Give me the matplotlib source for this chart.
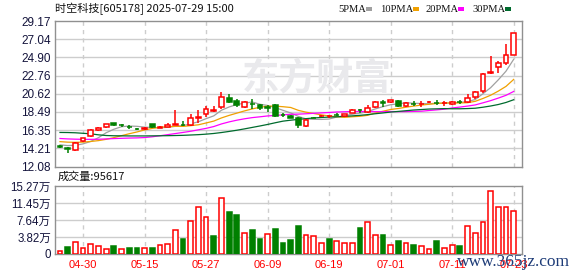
import numpy as np
import pandas as pd
import matplotlib
matplotlib.use('Agg')
import matplotlib.pyplot as plt
from matplotlib.patches import Rectangle

plt.rcParams['font.family'] = ['Liberation Sans', 'Noto Sans CJK SC', 'DejaVu Sans']

# ---------------- data ----------------
opens = [14.45, 14.30, 14.07, 15.05, 15.69, 16.40, 16.68, 17.15, 16.90, 16.72,
         16.50, 16.48, 17.03, 16.64, 16.76, 16.99, 17.01, 16.92, 17.82, 18.30,
         18.64, 19.07, 20.12, 19.80, 19.07, 19.42, 19.25, 19.01, 19.33, 18.12,
         18.06, 17.74, 16.85, 17.82, 17.98, 17.97, 18.12, 17.96, 18.40, 18.70,
         18.47, 19.06, 19.60, 19.61, 19.80, 19.18, 19.43, 19.39, 19.62, 19.58,
         19.48, 19.45, 19.67, 19.65, 20.23, 20.90, 23.09, 23.72, 24.18, 25.20]
highs = [14.57, 14.38, 14.98, 15.45, 16.48, 16.76, 17.07, 17.23, 17.07, 16.91,
         16.64, 16.68, 17.07, 16.84, 17.15, 18.66, 17.47, 18.26, 18.72, 19.22,
         19.17, 20.87, 20.62, 20.04, 19.82, 19.98, 19.47, 19.32, 19.41, 18.32,
         18.17, 17.84, 17.61, 17.90, 18.10, 18.17, 18.34, 18.27, 18.85, 18.87,
         19.26, 19.80, 19.88, 19.90, 19.88, 19.65, 19.72, 19.72, 19.80, 19.88,
         19.72, 19.80, 19.88, 20.59, 20.98, 23.01, 25.05, 24.50, 26.49, 27.80]
lows = [14.27, 13.72, 13.91, 14.94, 15.57, 16.28, 16.56, 16.84, 16.76, 16.52,
        16.32, 16.40, 16.64, 16.60, 16.68, 16.95, 16.84, 16.80, 17.23, 17.84,
        18.50, 18.87, 19.50, 19.02, 18.93, 18.87, 18.67, 18.50, 17.84, 17.94,
        17.74, 16.60, 16.74, 17.72, 17.88, 17.72, 17.97, 17.88, 18.32, 18.42,
        18.32, 18.94, 19.10, 19.55, 19.02, 19.02, 19.20, 19.10, 19.55, 19.25,
        19.18, 19.33, 19.45, 19.50, 20.04, 20.74, 22.97, 23.01, 24.03, 25.12]
closes = [14.42, 14.15, 14.86, 15.37, 16.32, 16.64, 17.03, 16.91, 16.88, 16.70,
          16.48, 16.56, 16.68, 16.70, 16.99, 17.07, 16.97, 17.75, 17.90, 18.81,
          18.72, 20.27, 19.68, 19.33, 19.62, 19.38, 18.93, 18.98, 18.02, 18.09,
          17.82, 16.90, 17.53, 17.78, 18.02, 18.05, 18.09, 18.24, 18.69, 18.66,
          18.94, 19.69, 19.56, 19.84, 19.18, 19.57, 19.40, 19.42, 19.66, 19.55,
          19.52, 19.69, 19.63, 20.12, 20.78, 22.93, 23.22, 24.26, 25.20, 27.75]

# volume in 万 (10k shares)
volumes = [0.74, 1.49, 2.76, 1.42, 2.31, 1.86, 1.19, 1.71, 1.19, 1.27,
           1.42, 1.42, 1.27, 1.94, 2.16, 5.44, 3.28, 7.45, 10.58, 8.34,
           3.95, 12.59, 9.53, 8.86, 4.77, 5.29, 3.28, 4.54, 5.51, 2.38,
           3.05, 6.18, 4.32, 3.95, 2.53, 3.28, 2.98, 2.53, 2.53, 5.74,
           7.23, 4.17, 4.17, 1.94, 2.83, 2.53, 2.01, 1.71, 1.19, 2.83,
           1.42, 1.94, 1.71, 6.33, 4.77, 7.23, 14.15, 10.58, 10.58, 9.5617]
vol_up = [1, 0, 1, 1, 1, 1, 1, 0, 1, 0,
          0, 1, 0, 1, 1, 1, 0, 1, 1, 1,
          0, 1, 0, 0, 1, 0, 0, 1, 0, 0,
          0, 0, 1, 1, 1, 0, 1, 1, 1, 0,
          1, 1, 0, 1, 0, 1, 0, 1, 1, 0,
          1, 1, 0, 1, 1, 1, 1, 1, 1, 1]

# moving-average values visible before enough in-chart history exists
ma5_head = [14.62, 14.54, 14.57, 14.74]
ma10_head = [15.00, 14.94, 14.92, 14.94, 15.02, 15.12, 15.27, 15.47, 15.70]
ma20_head = [15.37, 15.32, 15.29, 15.27, 15.27, 15.28, 15.32, 15.36, 15.39, 15.42,
             15.44, 15.48, 15.57, 15.69, 15.82, 15.95, 16.08, 16.22, 16.39]
ma30_head = [16.08, 16.07, 16.04, 15.98, 15.92, 15.80, 15.72, 15.69, 15.68, 15.67,
             15.67, 15.67, 15.68, 15.69, 15.70, 15.72, 15.74, 15.78, 15.82, 15.88,
             15.96, 16.07, 16.20, 16.34, 16.50, 16.67, 16.84, 17.02, 17.22]

tick_idx = [3, 11, 19, 27, 35, 43, 51, 59]
tick_labels = ['04-30', '05-15', '05-27', '06-09', '06-19', '07-01', '07-11', '07-23']
price_ticks = [12.08, 14.21, 16.35, 18.49, 20.62, 22.76, 24.90, 27.04, 29.17]
vol_ticks = [0, 3.82, 7.64, 11.45, 15.27]
vol_tick_labels = ['0', '3.82万', '7.64万', '11.45万', '15.27万']

title_text = '时空科技[605178] 2025-07-29 15:00'
vol_title = '成交量:95617'
legend_names = ['5PMA', '10PMA', '20PMA', '30PMA']

# ---------------- styles ----------------
RED = '#ff0000'
GREEN = '#008000'
MA_COLORS = ['#a0a0a0', '#f0a000', '#ff00ff', '#006b2e']
GRID = '#cdcdcd'
FRAME = '#909090'
LABEL = '#14143c'

W, H = 578, 276
fig = plt.figure(figsize=(W / 100, H / 100), dpi=100)

def rect(l, t, r, b):
    return [l / W, 1 - b / H, (r - l) / W, (b - t) / H]

ax = fig.add_axes(rect(55, 21, 522, 166.5))
axv = fig.add_axes(rect(55, 186, 522, 254))

x = np.arange(len(closes))
o = np.array(opens); c = np.array(closes); hi = np.array(highs); lo = np.array(lows)
up = c >= o
bw = 0.62

# moving averages
def ma(n, head):
    s = pd.Series(closes).rolling(n).mean().to_numpy()
    s[:n - 1] = head
    return s

for (n, head), col in zip([(5, ma5_head), (10, ma10_head), (20, ma20_head), (30, ma30_head)], MA_COLORS):
    ax.plot(x, ma(n, head), color=col, lw=0.9, zorder=2, solid_joinstyle='miter')

# candles
colors = np.where(up, RED, GREEN)
ax.vlines(x, lo, hi, colors=colors, lw=1.1, zorder=2.5)
body_h = np.where(np.abs(c - o) < 0.02, 0.02, c - o)
ax.bar(x[up], body_h[up], bottom=o[up], width=bw, facecolor='white', edgecolor=RED,
       linewidth=1.1, zorder=3)
ax.bar(x[~up], body_h[~up], bottom=o[~up], width=bw, facecolor=GREEN, edgecolor=GREEN,
       linewidth=1.1, zorder=3)

ax.set_xlim(-0.65, 60.08)
ax.set_ylim(price_ticks[0], price_ticks[-1])
ax.set_yticks(price_ticks)
ax.set_yticklabels(['%.2f' % v for v in price_ticks])
ax.set_xticks(tick_idx)
ax.set_xticklabels([])
for v in price_ticks[1:-1]:
    ax.axhline(v, color=GRID, lw=1.0, zorder=0.5)
for t in tick_idx:
    ax.axvline(t, color=GRID, lw=1.0, ls=(0, (3, 3)), zorder=0.5)

# watermark
ax.text(0.56, 0.60, '东方财富', transform=ax.transAxes, fontsize=27, fontweight='bold',
        color='#e9e9ec', ha='center', va='center', zorder=0.8,
        family=['Noto Sans CJK SC'])

# volume
vu = np.array(vol_up, dtype=bool)
vv = np.array(volumes)
axv.bar(x[vu], vv[vu], width=bw, facecolor='white', edgecolor=RED, linewidth=1.1, zorder=3)
axv.bar(x[~vu], vv[~vu], width=bw, facecolor=GREEN, edgecolor=GREEN, linewidth=1.1, zorder=3)
axv.set_xlim(-0.65, 60.08)
axv.set_ylim(0, vol_ticks[-1])
axv.set_yticks(vol_ticks)
axv.set_yticklabels(vol_tick_labels)
axv.set_xticks(tick_idx)
axv.set_xticklabels(tick_labels)
for v in vol_ticks[1:-1]:
    axv.axhline(v, color=GRID, lw=1.0, zorder=0.5)
for t in tick_idx:
    axv.axvline(t, color=GRID, lw=1.0, ls=(0, (3, 3)), zorder=0.5)

for a in (ax, axv):
    for sp in a.spines.values():
        sp.set_color(FRAME)
        sp.set_linewidth(1.0)
    a.tick_params(axis='both', length=0)
    a.tick_params(axis='y', pad=3, labelsize=8.5, labelcolor=LABEL)
axv.tick_params(axis='x', pad=4, labelsize=8, labelcolor=RED)
axv.tick_params(axis='y', labelsize=8.3)

# title & legend
fig.text(55 / W, 1 - 9 / H, title_text, fontsize=8, color='#111111', ha='left', va='center',
         family=['Noto Sans CJK SC'])
leg_x = [338, 380, 426, 472]
sw_x = [366, 413, 458, 505]
for name, lx, sx, col in zip(legend_names, leg_x, sw_x, MA_COLORS):
    fig.text(lx / W, 1 - 9 / H, name, fontsize=7.6, color='#111111', ha='left', va='center',
             family=['Liberation Serif'])
    fig.patches.append(Rectangle((sx / W, 1 - 10.5 / H), 6 / W, 3 / H,
                                 transform=fig.transFigure, facecolor=col, edgecolor='none'))

fig.text(58 / W, 1 - 177 / H, vol_title, fontsize=8, color='#111111', ha='left', va='center',
         family=['Noto Sans CJK SC'])

# site watermark
fig.text(513 / W, 1 - 262 / H, 'www.365jz.com', fontsize=12.5, color='#1e3c78', ha='center',
         va='center', family=['Liberation Serif'], zorder=10)

fig.savefig('out.png', dpi=100)
